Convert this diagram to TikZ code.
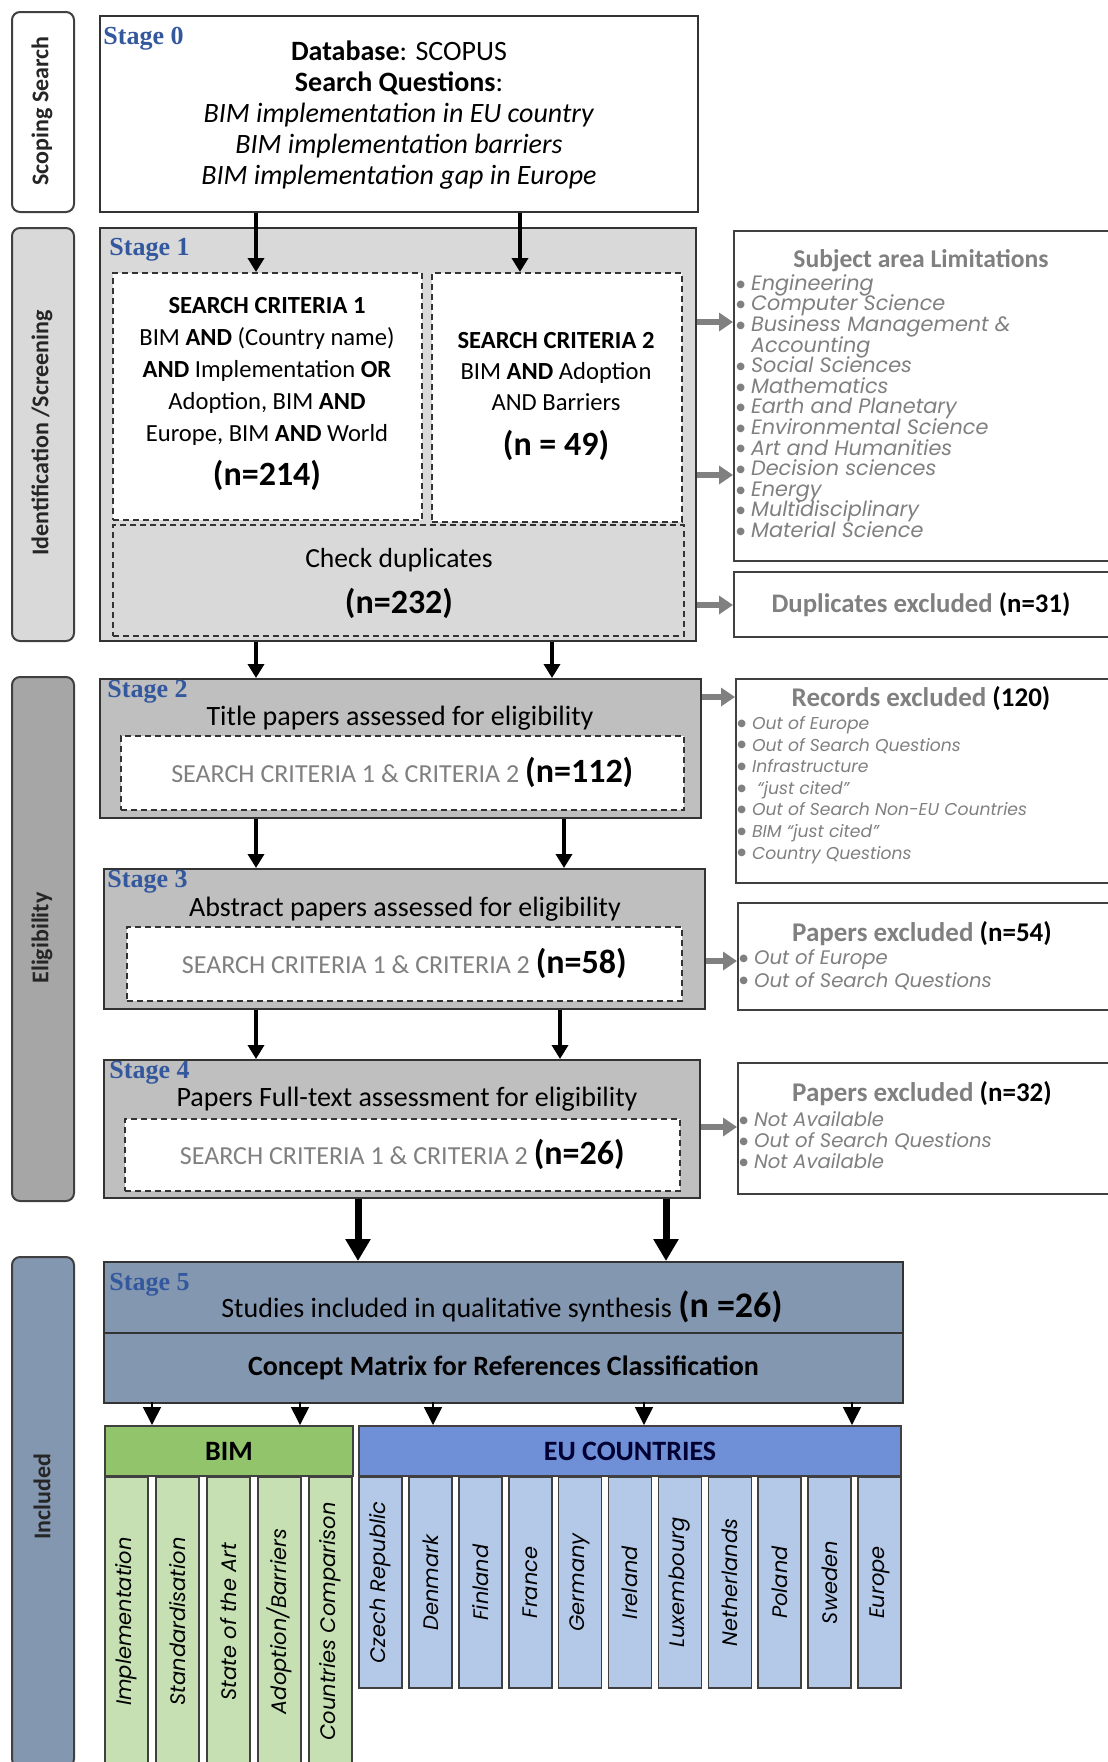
\documentclass[tikz,border=0pt]{standalone}
\usepackage{fontspec}
\setmainfont{Carlito}
\newfontfamily\stagefont{Liberation Serif}
\newfontfamily\listfont{Poppins}
\newfontfamily\bulfont{DejaVu Sans}
\usetikzlibrary{arrows.meta,positioning}
\definecolor{stageblue}{RGB}{52,88,158}
\definecolor{scrgray}{RGB}{217,217,217}
\definecolor{eliggray}{RGB}{191,191,191}
\definecolor{tabgray}{RGB}{166,166,166}
\definecolor{inclblue}{RGB}{132,151,176}
\definecolor{bimgreen}{RGB}{146,196,108}
\definecolor{bimlight}{RGB}{198,224,180}
\definecolor{eublue}{RGB}{111,143,214}
\definecolor{eulight}{RGB}{180,201,232}
\definecolor{exgray}{RGB}{128,128,128}
\definecolor{edgegray}{RGB}{64,64,64}
\newcommand{\fs}[2]{\fontsize{#1}{#2}\selectfont\lineskiplimit=-20pt\relax}
\newcommand{\blt}{\raisebox{1.6pt}{\bulfont\fs{5}{5}●}\hspace{3pt}}

\begin{document}
\begin{tikzpicture}[x=0.5pt, y=-0.5pt,
    box/.style={draw=black!80, line width=1pt, inner sep=0pt, anchor=north west},
    dbox/.style={draw=black!80, line width=0.8pt, dash pattern=on 3pt off 2pt, inner sep=0pt, anchor=north west},
    tab/.style={draw=edgegray, line width=1pt, rounded corners=4pt, inner sep=0pt, anchor=north west, minimum width=31pt},
    tablabel/.style={rotate=90, font=\fs{12}{14}\bfseries, text=black!85},
    stagelabel/.style={anchor=north west, inner sep=0pt, font=\stagefont\fs{13}{13}\bfseries, text=stageblue},
    exbox/.style={draw=edgegray, line width=1pt, fill=white, inner sep=0pt, anchor=north west},
    exlist/.style={anchor=north west, align=left, inner sep=0pt, text=exgray},
    bimcol/.style={draw=edgegray, line width=0.8pt, fill=bimlight, rotate=90, inner sep=0pt, minimum width=144.5pt, minimum height=21.5pt, font=\listfont\itshape\fs{10.5}{12}},
    eucol/.style={draw=edgegray, line width=0.8pt, fill=eulight, rotate=90, inner sep=0pt, minimum width=105.5pt, minimum height=21.5pt, font=\listfont\itshape\fs{10.5}{12}},
    arr/.style={line width=2pt, -{Triangle[width=8pt,length=7pt]}},
    bigarr/.style={line width=3.5pt, -{Triangle[width=12pt,length=11pt]}},
    garr/.style={draw=exgray, line width=3pt, -{Triangle[width=9pt,length=7pt]}},
    tri/.style={line width=0.8pt, -{Triangle[width=9pt,length=9pt]}}
  ]
  \useasboundingbox (0,0) rectangle (1108,1762);

  % Phase tabs
  \node[tab, fill=white, minimum height=100pt] (tab0) at (11,11) {};
  \node[tab, fill=scrgray, minimum height=206.5pt] (tab1) at (11,227) {};
  \node[tab, fill=tabgray, minimum height=262pt] (tab2) at (11,676) {};
  \node[tab, fill=inclblue, minimum height=255pt] (tab3) at (11,1256) {};
  \node[tablabel] (tab0txt) at (42,111) {Scoping Search};
  \node[tablabel] (tab1txt) at (42,433) {Identification /Screening};
  \node[tablabel] (tab2txt) at (42,938) {Eligibility};
  \node[tablabel] (tab3txt) at (42,1497) {Included};

  % Stage 0
  \node[box, fill=white, minimum width=299pt, minimum height=98pt] (s0) at (99,15) {};
  \node[stagelabel, xshift=2pt, yshift=-6pt] (s0lab) at (s0.north west) {Stage 0};
  \node[align=center, font=\fs{14}{15.5}] (s0txt) at (399,115)
    {\textbf{Database}: SCOPUS\\ \textbf{Search Questions}:\\
     \textit{BIM implementation in EU country}\\
     \textit{BIM implementation barriers}\\
     \textit{BIM implementation gap in Europe}};

  % Stage 1
  \node[box, fill=scrgray, minimum width=298pt, minimum height=206.5pt] (s1) at (99,227) {};
  \node[stagelabel, xshift=5pt, yshift=-5.5pt] (s1lab) at (s1.north west) {Stage 1};
  \node[dbox, fill=white, minimum width=154.5pt, minimum height=123.5pt] (crit1) at (112,272) {};
  \node[dbox, fill=white, minimum width=125pt, minimum height=124.5pt] (crit2) at (431,272) {};
  \node[dbox, minimum width=285.5pt, minimum height=55.5pt] (dup) at (112,524) {};
  \node[align=center, font=\fs{12.3}{16}] (crit1txt) at (267,394)
    {\textbf{SEARCH CRITERIA 1}\\ BIM \textbf{AND} (Country name)\\
     \textbf{AND} Implementation \textbf{OR}\\ Adoption, BIM \textbf{AND}\\
     Europe, BIM \textbf{AND} World\\[6pt] {\fs{17}{18}\bfseries (n=214)}};
  \node[align=center, font=\fs{12.3}{15.5}] (crit2txt) at (556,397)
    {\textbf{SEARCH CRITERIA 2}\\ BIM \textbf{AND} Adoption\\ AND Barriers\\[7pt]
     {\fs{17}{18}\bfseries (n = 49)}};
  \node[align=center, font=\fs{13.8}{16}] (duptxt) at (399,583)
    {Check duplicates\\[7pt] {\fs{17}{18}\bfseries (n=232)}};

  % Stage 2
  \node[box, fill=eliggray, minimum width=300.5pt, minimum height=69.5pt] (s2) at (99,678) {};
  \node[stagelabel, xshift=4pt, yshift=-1pt] (s2lab) at (s2.north west) {Stage 2};
  \node[font=\fs{14}{16}] (s2txt) at (400,718) {Title papers assessed for eligibility};
  \node[dbox, fill=white, minimum width=281.5pt, minimum height=37pt] (in2) at (120,735) {};
  \node[font=\fs{13}{16}] (in2txt) at (in2.center)
    {\textcolor{exgray}{SEARCH CRITERIA 1 \& CRITERIA 2} {\fs{17}{18}\bfseries(n=112)}};

  % Stage 3
  \node[box, fill=eliggray, minimum width=300.5pt, minimum height=70pt] (s3) at (103,868) {};
  \node[stagelabel, xshift=2pt, yshift=-1pt] (s3lab) at (s3.north west) {Stage 3};
  \node[font=\fs{14}{16}] (s3txt) at (405,909) {Abstract papers assessed for eligibility};
  \node[dbox, fill=white, minimum width=277.5pt, minimum height=37pt] (in3) at (126,926) {};
  \node[font=\fs{13}{16}] (in3txt) at (in3.center)
    {\textcolor{exgray}{SEARCH CRITERIA 1 \& CRITERIA 2} {\fs{17}{18}\bfseries(n=58)}};

  % Stage 4
  \node[box, fill=eliggray, minimum width=298pt, minimum height=69pt] (s4) at (103,1059) {};
  \node[stagelabel, xshift=3pt, yshift=-1pt] (s4lab) at (s4.north west) {Stage 4};
  \node[font=\fs{14}{16}] (s4txt) at (407,1099) {Papers Full-text assessment for eligibility};
  \node[dbox, fill=white, minimum width=277.5pt, minimum height=36pt] (in4) at (124,1118) {};
  \node[font=\fs{13}{16}] (in4txt) at (in4.center)
    {\textcolor{exgray}{SEARCH CRITERIA 1 \& CRITERIA 2} {\fs{17}{18}\bfseries(n=26)}};

  % Stage 5
  \node[box, fill=inclblue, minimum width=399.5pt, minimum height=35.5pt] (s5) at (103,1261) {};
  \node[stagelabel, xshift=3pt, yshift=-6pt] (s5lab) at (s5.north west) {Stage 5};
  \node[font=\fs{14}{16}] (s5txt) at (502,1307)
    {Studies included in qualitative synthesis {\fs{18}{18}\bfseries(n =26)}};
  \node[box, fill=inclblue, minimum width=399.5pt, minimum height=35pt] (concept) at (103,1332) {};
  \node[font=\fs{14}{16}\bfseries] (concepttxt) at (concept.center)
    {Concept Matrix for References Classification};

  % Concept matrix groups
  \node[box, draw=edgegray, fill=bimgreen, minimum width=124pt, minimum height=25pt] (bimhead) at (104,1425) {};
  \node[font=\fs{14}{16}\bfseries] (bimtxt) at (bimhead.center) {BIM};
  \node[box, draw=edgegray, fill=eublue, minimum width=271pt, minimum height=25pt] (euhead) at (358,1425) {};
  \node[font=\fs{14}{16}\bfseries, text=black!80!blue] (eutxt) at (euhead.center) {EU COUNTRIES};

  \node[bimcol] (b1) at (126.5,1621.5) {Implementation};
  \node[bimcol] (b2) at (177.5,1621.5) {Standardisation};
  \node[bimcol] (b3) at (228.5,1621.5) {State of the Art};
  \node[bimcol] (b4) at (279.5,1621.5) {Adoption/Barriers};
  \node[bimcol] (b5) at (330.5,1621.5) {Countries Comparison};

  \node[eucol] (e1) at (380.5,1582.5) {Czech Republic};
  \node[eucol] (e2) at (430.4,1582.5) {Denmark};
  \node[eucol] (e3) at (480.3,1582.5) {Finland};
  \node[eucol] (e4) at (530.2,1582.5) {France};
  \node[eucol] (e5) at (580.1,1582.5) {Germany};
  \node[eucol] (e6) at (630.0,1582.5) {Ireland};
  \node[eucol] (e7) at (679.9,1582.5) {Luxembourg};
  \node[eucol] (e8) at (729.8,1582.5) {Netherlands};
  \node[eucol] (e9) at (779.7,1582.5) {Poland};
  \node[eucol] (e10) at (829.6,1582.5) {Sweden};
  \node[eucol] (e11) at (879.5,1582.5) {Europe};

  % Exclusion boxes
  \node[exbox, minimum width=189.5pt, minimum height=165pt] (subj) at (733,230) {};
  \node[font=\fs{12.8}{14}\bfseries, text=exgray] (subjtitle) at (921,261) {Subject area Limitations};
  \node[exlist, font=\listfont\itshape\fs{10.4}{10.3}] (subjlist) at (736,274)
    {\blt Engineering\\ \blt Computer Science\\ \blt Business Management \&\\
     \hphantom{\blt}Accounting\\ \blt Social Sciences\\ \blt Mathematics\\
     \blt Earth and Planetary\\ \blt Environmental Science\\ \blt Art and Humanities\\
     \blt Decision sciences\\ \blt Energy\\ \blt Multidisciplinary\\ \blt Material Science};

  \node[exbox, minimum width=189.5pt, minimum height=32.5pt] (dupx) at (733,571) {};
  \node[font=\fs{13.4}{14}\bfseries] (dupxtxt) at (921,605)
    {\textcolor{exgray}{Duplicates excluded} (n=31)};

  \node[exbox, minimum width=188.5pt, minimum height=102pt] (recx) at (735,678) {};
  \node[font=\fs{13.5}{14}\bfseries] (recxtitle) at (921,699)
    {\textcolor{exgray}{Records excluded} (120)};
  \node[exlist, font=\listfont\itshape\fs{8.6}{10.8}] (recxlist) at (737,716)
    {\blt Out of Europe\\ \blt Out of Search Questions\\ \blt Infrastructure\\
     \blt\ “just cited”\\ \blt Out of Search Non-EU Countries\\ \blt BIM “just cited”\\
     \blt Country Questions};

  \node[exbox, minimum width=187.5pt, minimum height=53.5pt] (pap54) at (737,902) {};
  \node[font=\fs{13.5}{14}\bfseries] (pap54title) at (922,934)
    {\textcolor{exgray}{Papers excluded} (n=54)};
  \node[exlist, font=\listfont\itshape\fs{9.8}{11.4}] (pap54list) at (739,949)
    {\blt Out of Europe\\ \blt Out of Search Questions};

  \node[exbox, minimum width=187.5pt, minimum height=65.5pt] (pap32) at (737,1062) {};
  \node[font=\fs{13.5}{14}\bfseries] (pap32title) at (922,1094)
    {\textcolor{exgray}{Papers excluded} (n=32)};
  \node[exlist, font=\listfont\itshape\fs{9.8}{10.6}] (pap32list) at (739,1111)
    {\blt Not Available\\ \blt Out of Search Questions\\ \blt Not Available};

  % Arrow columns and rows
  \coordinate (la) at (256,0);
  \coordinate (r0) at (520,0);
  \coordinate (r1) at (552,0);
  \coordinate (r2) at (564,0);
  \coordinate (r3) at (560,0);
  \coordinate (l5) at (358,0);
  \coordinate (r5) at (666,0);
  \coordinate (g1) at (0,322);
  \coordinate (g2) at (0,475);
  \coordinate (g3) at (0,605);
  \coordinate (g4) at (0,697);
  \coordinate (g5) at (0,961);
  \coordinate (g6) at (0,1127);

  % Flow arrows
  \draw[arr] (s0.south -| la) -- (crit1.north -| la);
  \draw[arr] (s0.south -| r0) -- (crit2.north -| r0);
  \draw[arr] (s1.south -| la) -- (s2.north -| la);
  \draw[arr] (s1.south -| r1) -- (s2.north -| r1);
  \draw[arr] (s2.south -| la) -- (s3.north -| la);
  \draw[arr] (s2.south -| r2) -- (s3.north -| r2);
  \draw[arr] (s3.south -| la) -- (s4.north -| la);
  \draw[arr] (s3.south -| r3) -- (s4.north -| r3);
  \draw[bigarr] (s4.south -| l5) -- (s5.north -| l5);
  \draw[bigarr] (s4.south -| r5) -- (s5.north -| r5);

  % Exclusion arrows
  \draw[garr] (s1.east |- g1) -- (subj.west |- g1);
  \draw[garr] (s1.east |- g2) -- (subj.west |- g2);
  \draw[garr] (s1.east |- g3) -- (dupx.west |- g3);
  \draw[garr] (s2.east |- g4) -- (recx.west |- g4);
  \draw[garr] (s3.east |- g5) -- (pap54.west |- g5);
  \draw[garr] (s4.east |- g6) -- (pap32.west |- g6);

  % Classification pointers
  \coordinate (t1) at (152,1402);
  \coordinate (t2) at (300,1402);
  \coordinate (t3) at (433,1402);
  \coordinate (t4) at (644,1402);
  \coordinate (t5) at (852,1402);
  \draw[tri] (t1) -- (bimhead.north -| t1);
  \draw[tri] (t2) -- (bimhead.north -| t2);
  \draw[tri] (t3) -- (euhead.north -| t3);
  \draw[tri] (t4) -- (euhead.north -| t4);
  \draw[tri] (t5) -- (euhead.north -| t5);
\end{tikzpicture}
\end{document}
